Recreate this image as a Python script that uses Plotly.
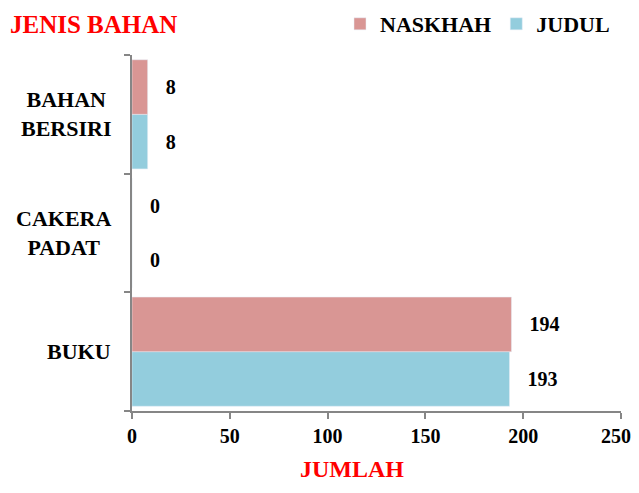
import plotly.graph_objects as go

categories = ["BUKU", "CAKERA PADAT", "BAHAN BERSIRI"]
tick_text = ["BUKU", "CAKERA<br>PADAT", "BAHAN<br>BERSIRI"]
judul = [193, 0, 8]
naskhah = [194, 0, 8]
x_ticks = [0, 50, 100, 150, 200, 250]
# last label nudged left with trailing spaces so it is not cut at the edge
x_tick_text = ["0", "50", "100", "150", "200", "250\u00a0\u00a0"]

SERIF = "Liberation Serif, Times New Roman, serif"
AXIS_GREY = "#868686"

# the page adds an 8px body margin, so the figure is sized to fit inside it
W, H = 623, 477
OFF = 8

fig = go.Figure()
fig.add_trace(go.Bar(
    y=categories, x=judul, name="JUDUL", orientation="h",
    marker_color="#93CDDD",
    text=judul, texttemplate="\u00a0\u00a0\u00a0%{x}", textposition="outside",
    textfont=dict(family=SERIF, size=20, color="black", weight="bold"),
    cliponaxis=False,
))
fig.add_trace(go.Bar(
    y=categories, x=naskhah, name="NASKHAH", orientation="h",
    marker_color="#D99694",
    text=naskhah, texttemplate="\u00a0\u00a0\u00a0%{x}", textposition="outside",
    textfont=dict(family=SERIF, size=20, color="black", weight="bold"),
    cliponaxis=False,
))

plot_l, plot_r, plot_t, plot_b = 132 - OFF, 621 - OFF, 53 - OFF, 411 - OFF
plot_w = plot_r - plot_l
plot_h = plot_b - plot_t

# category labels: block right aligned, lines centred
for cat, txt in zip(categories, tick_text):
    fig.add_annotation(
        x=(113 - OFF - plot_l) / plot_w, xref="paper", xanchor="right",
        y=cat, yref="y", yanchor="middle",
        text=txt, align="center", showarrow=False,
        font=dict(family=SERIF, size=22, color="black", weight="bold"),
    )

# x axis title, sits left of centre and at the very bottom in the original
fig.add_annotation(
    x=(352 - OFF - plot_l) / plot_w, xref="paper", xanchor="center",
    y=-(H - plot_b - 1) / plot_h, yref="paper", yanchor="bottom",
    text="JUMLAH", showarrow=False,
    font=dict(family=SERIF, size=24, color="red", weight="bold"),
)

fig.update_layout(
    width=W, height=H,
    margin=dict(l=plot_l, r=W - plot_r, t=plot_t, b=H - plot_b),
    plot_bgcolor="white", paper_bgcolor="white",
    barmode="group", bargap=0.08, bargroupgap=0,
    title=dict(
        text="JENIS BAHAN", x=(10 - OFF) / W, xanchor="left", xref="container",
        y=1 - (24 - OFF) / H, yanchor="middle", yref="container",
        font=dict(family=SERIF, size=25, color="red", weight="bold"),
    ),
    legend=dict(
        orientation="h", traceorder="reversed",
        x=(340 - OFF - plot_l) / plot_w, xanchor="left",
        y=1 - (24 - OFF) / H, yref="container", yanchor="middle",
        font=dict(family=SERIF, size=22, color="black", weight="bold"),
    ),
    showlegend=True,
)

fig.update_xaxes(
    range=[0, 250], tickvals=x_ticks, ticktext=x_tick_text,
    ticks="outside", ticklen=6,
    tickcolor=AXIS_GREY, tickwidth=2, showline=True, linecolor=AXIS_GREY,
    linewidth=2, showgrid=False, zeroline=False,
    ticklabeloverflow="allow", automargin=False,
    tickfont=dict(family=SERIF, size=20, color="black", weight="bold"),
)
fig.update_yaxes(
    categoryorder="array", categoryarray=categories,
    range=[-0.5, 2.5], tickson="boundaries", ticks="outside", ticklen=6,
    tickcolor=AXIS_GREY, tickwidth=2, showline=True, linecolor=AXIS_GREY,
    linewidth=2, showgrid=False, zeroline=False, showticklabels=False,
)

fig.write_html("out.html")
